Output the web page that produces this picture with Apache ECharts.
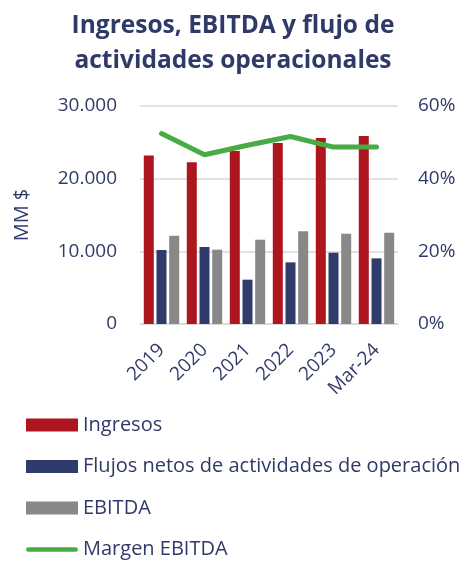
<!DOCTYPE html>
<html><head><meta charset="utf-8">
<script src="https://cdn.jsdelivr.net/npm/echarts@6/dist/echarts.min.js"></script>
<style>html,body{margin:0;padding:0;background:#fff}#c{width:466px;height:561px}</style>
</head><body><div id="c"></div>
<script>
const categories = ['2019','2020','2021','2022','2023','Mar-24'];
const ingresos = [23200, 22250, 23800, 24900, 25600, 25870];
const flujos = [10180, 10600, 6100, 8480, 9810, 9030];
const ebitda = [12150, 10230, 11600, 12750, 12430, 12560];
const margen = [0.524, 0.466, 0.492, 0.516, 0.487, 0.487];
const leftTicks = [0, 10000, 20000, 30000];
const rightTicks = [0, 0.2, 0.4, 0.6];

const txt = '#2f3a68';
const font = '"Open Sans", "Noto Sans", sans-serif';
const chart = echarts.init(document.getElementById('c'));
chart.setOption({
  animation: false,
  textStyle: {fontFamily: font},
  title: {
    text: 'Ingresos, EBITDA y flujo de\nactividades operacionales',
    left: 'center', top: 4,
    textStyle: {fontFamily: font, fontSize: 24.5, fontWeight: 'bold', color: txt, lineHeight: 35}
  },
  legend: {
    orient: 'vertical', left: 21, top: 410, height: 200,
    itemWidth: 52, itemHeight: 13, itemGap: 21.5,
    textStyle: {fontFamily: font, fontSize: 20, color: txt, lineHeight: 20},
    data: [
      {name: 'Ingresos', icon: 'rect'},
      {name: 'Flujos netos de actividades de operación', icon: 'rect'},
      {name: 'EBITDA', icon: 'rect'},
      {name: 'Margen EBITDA', icon: 'path://M2.5,0 H52.5 A2.5,2.5 0 0 1 52.5,5 H2.5 A2.5,2.5 0 0 1 2.5,0 Z',
       itemStyle: {color: '#48ac44', borderWidth: 0}}
    ]
  },
  grid: {left: 140, right: 68, top: 106, bottom: 237},
  xAxis: {
    type: 'category', data: categories,
    axisLine: {lineStyle: {color: '#d9d9d9', width: 1.5}},
    axisTick: {show: false},
    axisLabel: {rotate: 45, fontSize: 19, color: txt, margin: 23, fontFamily: font}
  },
  yAxis: [{
    type: 'value', min: 0, max: 30000, interval: 10000,
    name: 'MM $', nameLocation: 'middle', nameGap: 108, nameRotate: 90,
    nameTextStyle: {fontSize: 20, color: txt, fontFamily: font},
    axisLabel: {fontSize: 19, color: txt, margin: 23, fontFamily: font,
      formatter: v => leftTicks.includes(v) ? (v === 0 ? '0' : (v/1000).toFixed(0) + '.000') : ''},
    splitLine: {lineStyle: {color: '#d9d9d9', width: 1.5}},
    axisLine: {show: false}, axisTick: {show: false}
  }, {
    type: 'value', min: 0, max: 0.6, interval: 0.2,
    axisLabel: {fontSize: 19, color: txt, margin: 20, fontFamily: font,
      formatter: v => Math.round(v*100) + '%'},
    splitLine: {show: false}, axisLine: {show: false}, axisTick: {show: false}
  }],
  series: [
    {name: 'Ingresos', type: 'bar', data: ingresos, barWidth: 10, barGap: '27%', itemStyle: {color: '#ae161e'}},
    {name: 'Flujos netos de actividades de operación', type: 'bar', data: flujos, barWidth: 10, barGap: '27%', itemStyle: {color: '#2f3b6a'}},
    {name: 'EBITDA', type: 'bar', data: ebitda, barWidth: 10, barGap: '27%', itemStyle: {color: '#888888'}},
    {name: 'Margen EBITDA', type: 'line', yAxisIndex: 1, data: margen, symbol: 'none',
      lineStyle: {color: '#48ac44', width: 5, cap: 'round', join: 'round'}, itemStyle: {color: '#48ac44'}}
  ]
});
</script></body></html>
